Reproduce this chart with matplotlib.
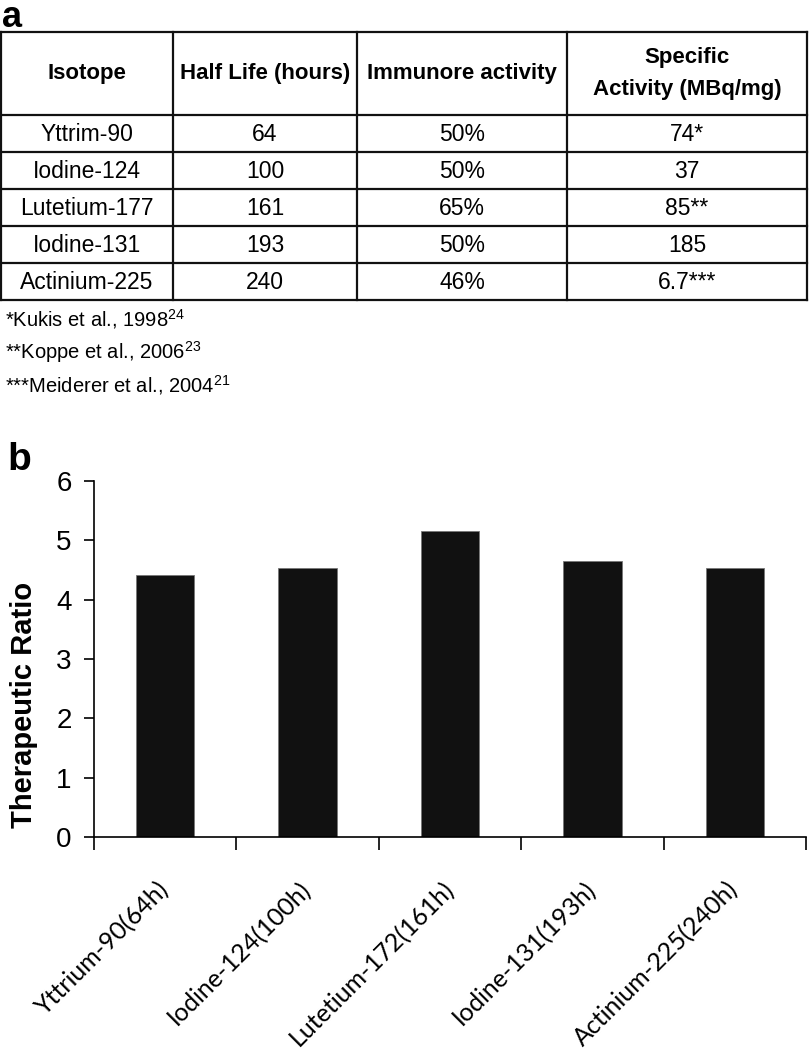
import matplotlib
matplotlib.use("Agg")
import matplotlib.pyplot as plt
import numpy as np

plt.rcParams["font.family"] = ["Liberation Sans", "DejaVu Sans"]
plt.rcParams["mathtext.fontset"] = "custom"
plt.rcParams["mathtext.rm"] = "Liberation Sans"
plt.rcParams["mathtext.it"] = "Liberation Sans:italic"

# table data (panel a)
table_header = ["Isotope", "Half Life (hours)", "Immunore activity", "Specific\nActivity (MBq/mg)"]
isotopes = ["Yttrim-90", "Iodine-124", "Lutetium-177", "Iodine-131", "Actinium-225"]
half_life = ["64", "100", "161", "193", "240"]
immuno = ["50%", "50%", "65%", "50%", "46%"]
specific = ["74*", "37", "85**", "185", "6.7***"]
footnotes = [r"*Kukis et al., 1998$^{24}$", r"**Koppe et al., 2006$^{23}$",
             r"***Meiderer et al., 2004$^{21}$"]

# bar data (panel b)
bar_labels = ["Yttrium-90(64h)", "Iodine-124(100h)", "Lutetium-172(161h)",
              "Iodine-131(193h)", "Actinium-225(240h)"]
ratio = [4.42, 4.54, 5.16, 4.66, 4.53]

W, H = 809, 1050
fig = plt.figure(figsize=(W / 100, H / 100), dpi=100)

# overlay in pixel coordinates for the table
ov = fig.add_axes([0, 0, 1, 1])
ov.set_xlim(0, W)
ov.set_ylim(H, 0)
ov.axis("off")

col_x = [1, 173, 357, 567, 807]
row_y = [32, 115, 152, 189, 226, 263, 300]
for x in col_x:
    ov.plot([x, x], [row_y[0], row_y[-1]], color="#111111", lw=1.6, solid_capstyle="projecting")
for y in row_y:
    ov.plot([col_x[0], col_x[-1]], [y, y], color="#111111", lw=1.6, solid_capstyle="projecting")

centers = [(col_x[i] + col_x[i + 1]) / 2 for i in range(4)]
hy = (row_y[0] + row_y[1]) / 2
for cx, txt in zip(centers, table_header):
    ov.text(cx, hy, txt, ha="center", va="center", fontsize=16, fontweight="bold",
            linespacing=1.75)

for r, row in enumerate(zip(isotopes, half_life, immuno, specific)):
    cy = (row_y[r + 1] + row_y[r + 2]) / 2
    for cx, txt in zip(centers, row):
        ov.text(cx, cy + 1, txt, ha="center", va="center", fontsize=16.5)

for i, note in enumerate(footnotes):
    ov.text(5, 319 + i * 33, note, ha="left", va="center", fontsize=14.5)

ov.text(2, 27, "a", ha="left", va="baseline", fontsize=26, fontweight="bold")
ov.text(7, 470, "b", ha="left", va="baseline", fontsize=28, fontweight="bold")

# bar chart
ax = fig.add_axes([94 / W, 1 - 837 / H, (806 - 94) / W, (837 - 481) / H])
x = np.arange(len(ratio))
ax.bar(x, ratio, width=0.41, color="#111111", edgecolor="#777777", linewidth=0.6)
ax.set_xlim(-0.5, len(ratio) - 0.5)
ax.set_ylim(0, 6)
ax.set_yticks(range(0, 7))
ax.tick_params(axis="y", labelsize=20, length=7, width=1.2, pad=9, direction="out")
ax.spines["top"].set_visible(False)
ax.spines["right"].set_visible(False)
ax.spines["left"].set_linewidth(1.2)
ax.spines["bottom"].set_linewidth(1.2)
ax.spines["left"].set_bounds(0, 6)

ax.set_xticks(np.arange(len(ratio) + 1) - 0.5)
ax.set_xticklabels([])
ax.tick_params(axis="x", which="major", length=9, width=1.2, direction="out")
ax.set_xticks(x, minor=True)
ax.set_xticklabels(bar_labels, minor=True, rotation=45, ha="right", va="center",
                   rotation_mode="anchor", fontsize=18, family=["Lato", "DejaVu Sans"])
ax.tick_params(axis="x", which="minor", length=0, pad=35)

ax.set_ylabel("Therapeutic Ratio", fontsize=21, fontweight="bold")
ax.yaxis.set_label_coords(-0.079, 0.37)

fig.savefig("out.png", dpi=100)
